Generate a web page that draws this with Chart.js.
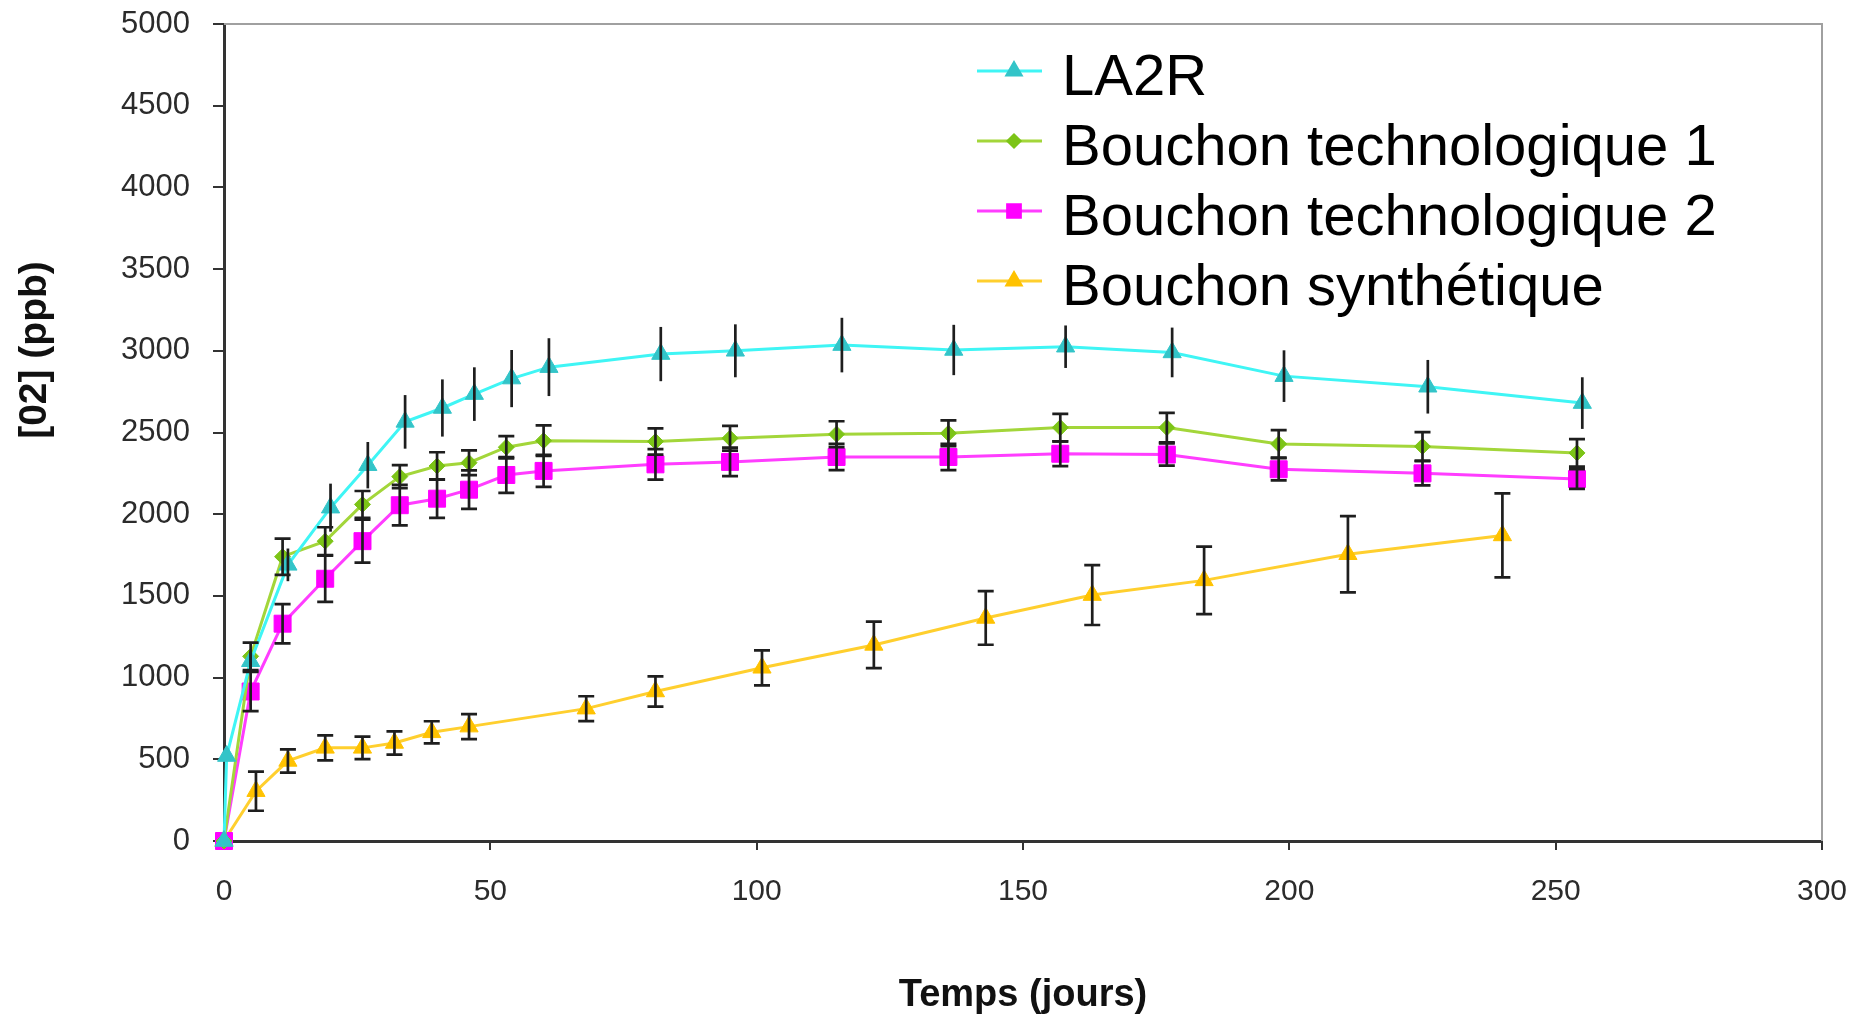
<!DOCTYPE html>
<html>
<head>
<meta charset="utf-8">
<title>[02] (ppb)</title>
<script src="https://cdn.jsdelivr.net/npm/chart.js@4.4.1/dist/chart.umd.min.js"></script>
<style>
  html, body { margin: 0; padding: 0; background: #fff; }
  canvas { display: block; }
</style>
</head>
<body>
<canvas id="o2Chart" width="1865" height="1017"></canvas>
<script>
// series names (legend)
const seriesNames = ['LA2R', 'Bouchon technologique 1', 'Bouchon technologique 2', 'Bouchon synthétique'];

// LA2R
const la2rDays   = [0, 0.5, 5, 12, 20, 27, 34, 41, 47, 54, 61, 82, 96, 116, 137, 158, 178, 199, 226, 255];
const la2rValues = [0, 520, 1100, 1690, 2040, 2300, 2565, 2650, 2735, 2830, 2900, 2980, 3000, 3035, 3005, 3025, 2990, 2845, 2780, 2680];
const la2rErrors = [0, 0, 60, 100, 147, 142, 164, 175, 164, 175, 177, 166, 162, 167, 154, 130, 152, 158, 164, 158];

// Bouchon technologique 1
const bt1Days   = [0, 5, 11, 19, 26, 33, 40, 46, 53, 60, 81, 95, 115, 136, 157, 177, 198, 225, 254];
const bt1Values = [0, 1130, 1740, 1835, 2060, 2230, 2295, 2315, 2410, 2450, 2445, 2465, 2490, 2495, 2530, 2530, 2430, 2415, 2375];
const bt1Errors = [0, 84, 111, 85, 82, 70, 84, 76, 68, 93, 80, 76, 79, 79, 84, 90, 84, 87, 84];

// Bouchon technologique 2
const bt2Days   = [0, 5, 11, 19, 26, 33, 40, 46, 53, 60, 81, 95, 115, 136, 157, 177, 198, 225, 254];
const bt2Values = [0, 915, 1330, 1605, 1835, 2055, 2095, 2150, 2240, 2265, 2305, 2320, 2350, 2350, 2370, 2365, 2275, 2250, 2215];
const bt2Errors = [0, 120, 120, 142, 131, 124, 118, 118, 109, 98, 93, 87, 80, 80, 76, 68, 68, 74, 60];

// Bouchon synthétique
const synDays   = [0, 6, 12, 19, 26, 32, 39, 46, 68, 81, 101, 122, 143, 163, 184, 211, 240];
const synValues = [0, 305, 490, 570, 570, 600, 665, 700, 810, 915, 1060, 1200, 1365, 1505, 1595, 1755, 1870];
const synErrors = [0, 120, 71, 76, 69, 71, 68, 76, 76, 93, 107, 142, 164, 183, 206, 233, 257];

function toPoints(days, values) {
    return days.map((d, i) => ({ x: d, y: values[i] }));
}

const FONT = "'Liberation Sans', Arial, sans-serif";

// black error bars, drawn over the markers
const errorBars = {
    id: 'errorBars',
    afterDatasetsDraw(chart) {
        const ctx = chart.ctx;
        const xs = chart.scales.x;
        const ys = chart.scales.y;
        ctx.save();
        ctx.strokeStyle = '#1e1e1e';
        ctx.lineWidth = 2.7;
        chart.data.datasets.forEach((ds) => {
            ds.errors.forEach((err, j) => {
                if (!err) return;
                const pt = ds.data[j];
                const px = xs.getPixelForValue(pt.x);
                const top = ys.getPixelForValue(pt.y + err);
                const bot = ys.getPixelForValue(pt.y - err);
                ctx.beginPath();
                ctx.moveTo(px, top);
                ctx.lineTo(px, bot);
                if (ds.caps) {
                    ctx.moveTo(px - 8, top);
                    ctx.lineTo(px + 8, top);
                    ctx.moveTo(px - 8, bot);
                    ctx.lineTo(px + 8, bot);
                }
                ctx.stroke();
            });
        });
        ctx.restore();
    }
};

// grey frame on top/right, axis titles, legend
const decorations = {
    id: 'decorations',
    beforeDatasetsDraw(chart) {
        const { ctx, chartArea: a } = chart;
        ctx.save();
        ctx.strokeStyle = '#a0a0a0';
        ctx.lineWidth = 2;
        ctx.beginPath();
        ctx.moveTo(a.left, a.top);
        ctx.lineTo(a.right, a.top);
        ctx.lineTo(a.right, a.bottom);
        ctx.stroke();
        ctx.restore();
    },
    afterDraw(chart) {
        const { ctx, chartArea: a } = chart;
        ctx.save();
        ctx.fillStyle = '#111';
        ctx.font = 'bold 38px ' + FONT;
        ctx.textAlign = 'center';
        ctx.textBaseline = 'alphabetic';
        ctx.fillText('Temps (jours)', (a.left + a.right) / 2, 1006);

        ctx.font = 'bold 39px ' + FONT;
        ctx.translate(35, 350);
        ctx.rotate(-Math.PI / 2);
        ctx.textBaseline = 'middle';
        ctx.fillText('[02] (ppb)', 0, 0);
        ctx.restore();

        // legend
        ctx.save();
        ctx.font = '58px ' + FONT;
        ctx.textAlign = 'left';
        ctx.textBaseline = 'middle';
        chart.data.datasets.forEach((ds, i) => {
            const cy = 79 + i * 70;
            const ly = cy - 8;
            ctx.strokeStyle = ds.borderColor;
            ctx.lineWidth = 3;
            ctx.beginPath();
            ctx.moveTo(977, ly);
            ctx.lineTo(1042, ly);
            ctx.stroke();
            ctx.fillStyle = ds.pointBackgroundColor;
            ctx.strokeStyle = ds.pointBackgroundColor;
            Chart.helpers.drawPoint(ctx, {
                pointStyle: ds.pointStyle,
                radius: ds.legendRadius,
                borderWidth: 1,
                rotation: 0
            }, 1014, ly);
            ctx.fillStyle = '#000';
            ctx.fillText(ds.label, 1062, cy);
        });
        ctx.restore();
    }
};

const ctx = document.getElementById('o2Chart').getContext('2d');

const datasets = [
    {
        label: seriesNames[0],
        data: toPoints(la2rDays, la2rValues),
        errors: la2rErrors,
        caps: false,
        borderColor: '#3ff5f5',
        pointBackgroundColor: '#33c4c8',
        pointBorderColor: '#33c4c8',
        pointStyle: 'triangle',
        pointRadius: 10.5,
        legendRadius: 8
    },
    {
        label: seriesNames[1],
        data: toPoints(bt1Days, bt1Values),
        errors: bt1Errors,
        caps: true,
        borderColor: '#a3d63a',
        pointBackgroundColor: '#7cc417',
        pointBorderColor: '#7cc417',
        pointStyle: 'rectRot',
        pointRadius: 8,
        legendRadius: 6
    },
    {
        label: seriesNames[2],
        data: toPoints(bt2Days, bt2Values),
        errors: bt2Errors,
        caps: true,
        borderColor: '#ff3dff',
        pointBackgroundColor: '#ff00ff',
        pointBorderColor: '#ff00ff',
        pointStyle: 'rect',
        pointRadius: 12,
        legendRadius: 9
    },
    {
        label: seriesNames[3],
        data: toPoints(synDays, synValues),
        errors: synErrors,
        caps: true,
        borderColor: '#ffcf2e',
        pointBackgroundColor: '#ffc200',
        pointBorderColor: '#ffc200',
        pointStyle: 'triangle',
        pointRadius: 10.5,
        legendRadius: 8
    }
];

datasets.forEach((ds) => {
    ds.borderWidth = 3;
    ds.pointBorderWidth = 1;
    ds.tension = 0;
    ds.fill = false;
    ds.clip = false;
    ds.pointHoverRadius = ds.pointRadius;
});

const o2Chart = new Chart(ctx, {
    type: 'line',
    data: { datasets: datasets },
    options: {
        responsive: false,
        animation: false,
        devicePixelRatio: 1,
        layout: { padding: { top: 24, right: 43, left: 0, bottom: 0 } },
        plugins: {
            legend: { display: false },
            tooltip: { enabled: false }
        },
        scales: {
            x: {
                type: 'linear',
                min: 0,
                max: 300,
                ticks: {
                    stepSize: 50,
                    color: '#2b2b2b',
                    font: { family: FONT, size: 30 },
                    padding: 24,
                    maxRotation: 0,
                    callback: (v) => String(v)
                },
                grid: {
                    drawOnChartArea: false,
                    drawTicks: true,
                    tickLength: 9,
                    color: '#333',
                    lineWidth: 2
                },
                border: { color: '#333', width: 3 },
                afterFit(scale) {
                    scale.height = 176;
                    scale.paddingLeft = 0;
                    scale.paddingRight = 0;
                }
            },
            y: {
                min: 0,
                max: 5000,
                ticks: {
                    stepSize: 500,
                    color: '#2b2b2b',
                    font: { family: FONT, size: 31 },
                    padding: 23,
                    callback: (v) => String(v)
                },
                grid: {
                    drawOnChartArea: false,
                    drawTicks: true,
                    tickLength: 11,
                    color: '#333',
                    lineWidth: 2
                },
                border: { color: '#333', width: 3 },
                afterFit(scale) {
                    scale.width = 224;
                    scale.paddingTop = 0;
                    scale.paddingBottom = 0;
                }
            }
        }
    },
    plugins: [errorBars, decorations]
});
</script>
</body>
</html>
